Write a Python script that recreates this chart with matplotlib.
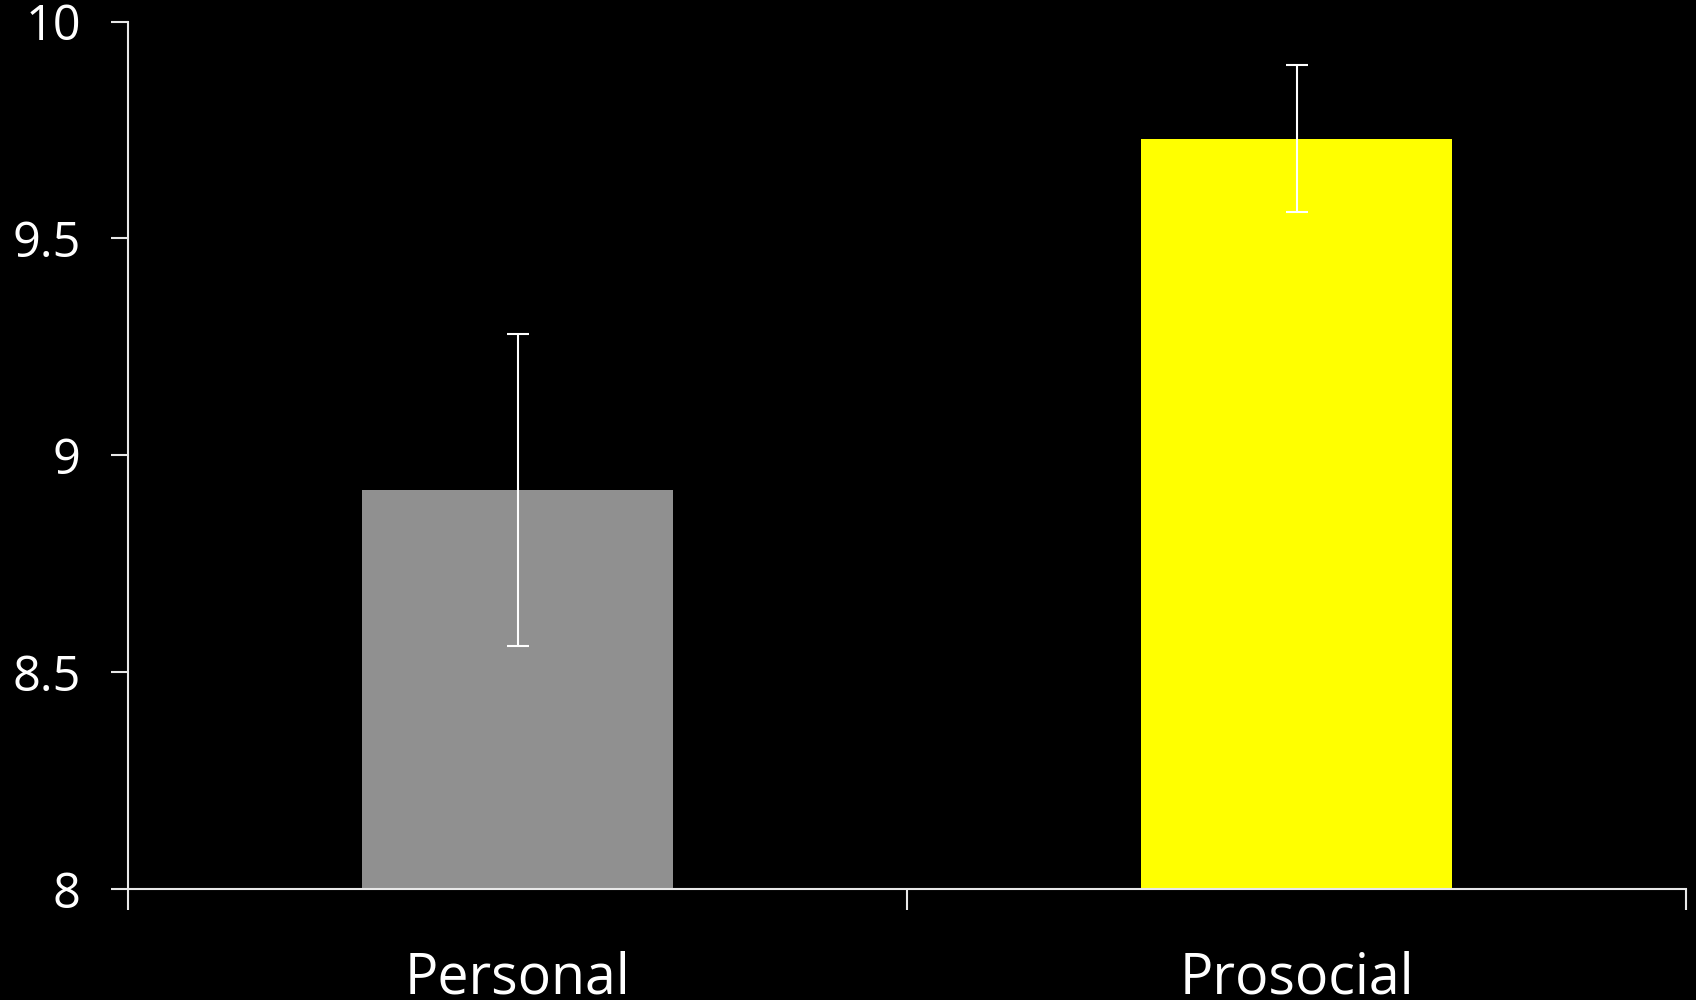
import numpy as np
import matplotlib
matplotlib.use('Agg')
import matplotlib.pyplot as plt

# group means and their error margins
groups = ['Personal', 'Prosocial']
means = [8.92, 9.73]
errors = [0.36, 0.17]
bar_colors = ['#909090', '#ffff00']

plt.rcParams['font.family'] = ['Open Sans', 'DejaVu Sans']

fig = plt.figure(figsize=(16.96, 10), dpi=100, facecolor='black')
ax = fig.add_axes([0.0755, 0.111, 0.9186, 0.8675], facecolor='black')

x = np.arange(len(groups))
ax.bar(x, np.array(means) - 8, bottom=8, width=0.4, color=bar_colors, zorder=2)
ax.errorbar(x, means, yerr=errors, fmt='none', ecolor='white',
            elinewidth=1.5, capsize=8, capthick=1.5, zorder=3)

ax.set_xlim(-0.5, 1.5)
ax.set_ylim(8, 10)
ax.set_yticks([8, 8.5, 9, 9.5, 10])
ax.set_yticklabels(['8', '8.5', '9', '9.5', '10'])

# category dividers as major ticks, names as minor ticks
ax.set_xticks([-0.5, 0.5, 1.5])
ax.set_xticklabels([])
ax.set_xticks(x, minor=True)
ax.set_xticklabels(groups, minor=True)

for s in ['top', 'right']:
    ax.spines[s].set_visible(False)
for s in ['left', 'bottom']:
    ax.spines[s].set_color('#e8e8e8')
    ax.spines[s].set_linewidth(1.5)

ax.tick_params(axis='y', colors='#e8e8e8', labelcolor='white', length=12,
               width=1.5, labelsize=35, pad=22)
ax.tick_params(axis='x', which='major', colors='#e8e8e8', length=15, width=1.5)
ax.tick_params(axis='x', which='minor', length=0, labelcolor='white',
               labelsize=40, pad=44)

fig.savefig('out.png', dpi=100, facecolor='black')
